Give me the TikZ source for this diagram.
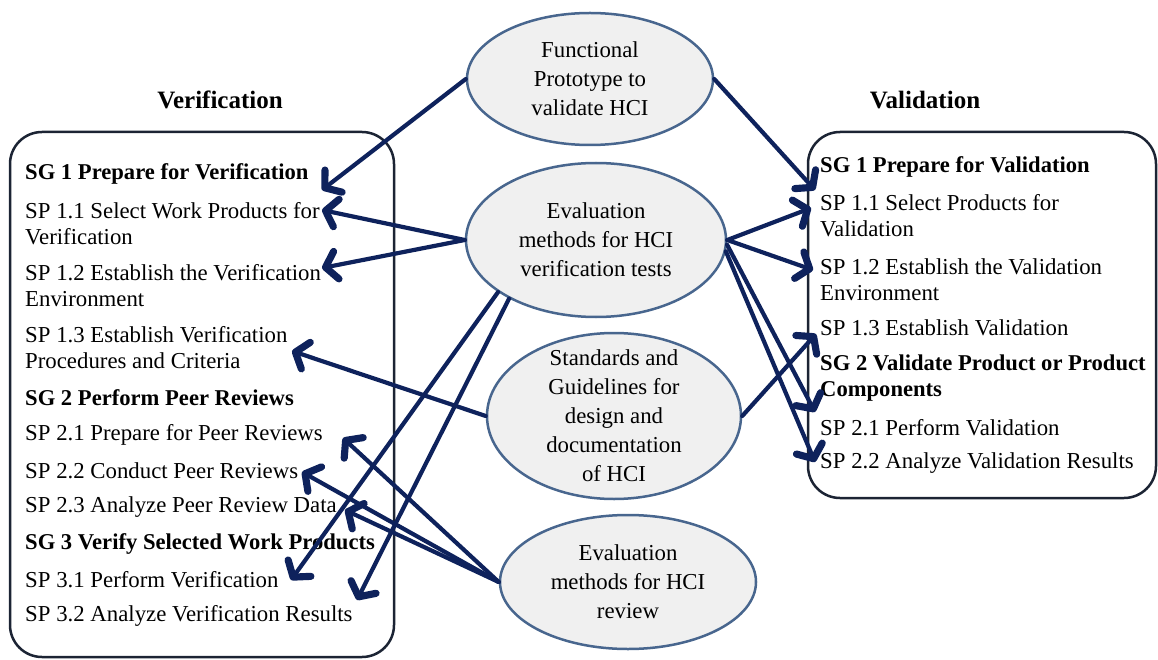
\documentclass[tikz,border=0pt]{standalone}
\usepackage{fontspec}
\setmainfont{Liberation Serif}
\usetikzlibrary{arrows.meta,shapes.geometric}
\definecolor{navy}{RGB}{14,34,92}
\definecolor{ellborder}{RGB}{72,102,142}
\definecolor{ellfill}{RGB}{240,240,240}
\definecolor{boxline}{RGB}{28,36,52}
\begin{document}
\begin{tikzpicture}[x=1pt,y=-1pt,
  item/.style={anchor=west, align=left, inner sep=0pt, font=\fontsize{22.8}{26}\selectfont},
  goal/.style={item, font=\fontsize{22.6}{26}\selectfont\bfseries},
  title/.style={inner sep=0pt, font=\fontsize{25}{28}\selectfont\bfseries},
  ell/.style={ellipse, draw=ellborder, fill=ellfill, line width=2.5pt, inner sep=0pt},
  elltext/.style={align=center, inner sep=0pt, font=\fontsize{22.8}{29}\selectfont},
  panel/.style={draw=boxline, line width=2.5pt, rounded corners=32pt},
  conn/.style={draw=navy, line width=4.2pt, line cap=round, -{Straight Barb[length=11pt,width=28pt,line width=0pt 1.7,round]}}]
\useasboundingbox (0,0) rectangle (1158,660);

% panels
\draw[panel] (10,132) rectangle (394,657);
\draw[panel] (808,132) rectangle (1156,498);

% titles
\node[title] (vtitle) at (220,100) {Verification};
\node[title] (atitle) at (925,100) {Validation};

% verification items
\node[goal] (v1)  at (25,174)   {SG 1 Prepare for Verification};
\node[item] (v11) at (25,223.5) {SP 1.1 Select Work Products for\\Verification};
\node[item] (v12) at (25,285.5) {SP 1.2 Establish the Verification\\Environment};
\node[item] (v13) at (25,347.5) {SP 1.3 Establish Verification\\Procedures and Criteria};
\node[goal] (v2)  at (25,398)   {SG 2 Perform Peer Reviews};
\node[item] (v21) at (25,435)   {SP 2.1 Prepare for Peer Reviews};
\node[item] (v22) at (25,471)   {SP 2.2 Conduct Peer Reviews};
\node[item] (v23) at (25,507)   {SP 2.3 Analyze Peer Review Data};
\node[goal] (v3)  at (25,544)   {SG 3 Verify Selected Work Products};
\node[item] (v31) at (25,580)   {SP 3.1 Perform Verification};
\node[item] (v32) at (25,616)   {SP 3.2 Analyze Verification Results};

% validation items
\node[goal] (w1)  at (820,167)   {SG 1 Prepare for Validation};
\node[item] (w11) at (820,215.5) {SP 1.1 Select Products for\\Validation};
\node[item] (w12) at (820,279.5) {SP 1.2 Establish the Validation\\Environment};
\node[item] (w13) at (820,328)   {SP 1.3 Establish Validation};
\node[goal] (w2)  at (820,378.5) {SG 2 Validate Product or Product\\Components};
\node[item] (w21) at (820,428)   {SP 2.1 Perform Validation};
\node[item] (w22) at (820,463)   {SP 2.2 Analyze Validation Results};

% ellipses
\node[ell, minimum width=246pt, minimum height=132pt] (fp) at (590,79) {};
\node[elltext] at (fp.center) {Functional\\Prototype to\\validate HCI};
\node[ell, minimum width=260pt, minimum height=154pt] (ev) at (596,240) {};
\node[elltext] at (ev.center) {Evaluation\\methods for HCI\\verification tests};
\node[ell, minimum width=254pt, minimum height=166pt] (sg) at (614,416) {};
\node[elltext] at (sg.center) {Standards and\\Guidelines for\\design and\\documentation\\of HCI};
\node[ell, minimum width=256pt, minimum height=134pt] (rv) at (628,582) {};
\node[elltext] at (rv.center) {Evaluation\\methods for HCI\\review};

% arrow tips
\coordinate (t1)  at (322,190);
\coordinate (t2)  at (815,190);
\coordinate (t3)  at (322,210);
\coordinate (t4)  at (322,268);
\coordinate (t5)  at (811,208);
\coordinate (t6)  at (813,270);
\coordinate (t7)  at (815,412);
\coordinate (t8)  at (815,462);
\coordinate (t9)  at (816,334);
\coordinate (t10) at (292,351);
\coordinate (t11) at (291,580);
\coordinate (t12) at (357,600);
\coordinate (t13) at (343,438);
\coordinate (t14) at (302,472);
\coordinate (t15) at (345,510);

% connectors
\draw[conn] (fp.west) -- (t1);
\draw[conn] (fp.east) -- (t2);
\draw[conn] (ev.west) -- (t3);
\draw[conn] (ev.west) -- (t4);
\draw[conn] (ev.east) -- (t5);
\draw[conn] (ev.east) -- (t6);
\draw[conn] (ev.-2) -- (t7);
\draw[conn] (ev.-5) -- (t8);
\draw[conn] (sg.east) -- (t9);
\draw[conn] (sg.west) -- (t10);
\draw[conn] (ev.208) -- (t11);
\draw[conn] (ev.214) -- (t12);
\draw[conn] (rv.west) -- (t13);
\draw[conn] (rv.west) -- (t14);
\draw[conn] (rv.west) -- (t15);
\end{tikzpicture}
\end{document}
